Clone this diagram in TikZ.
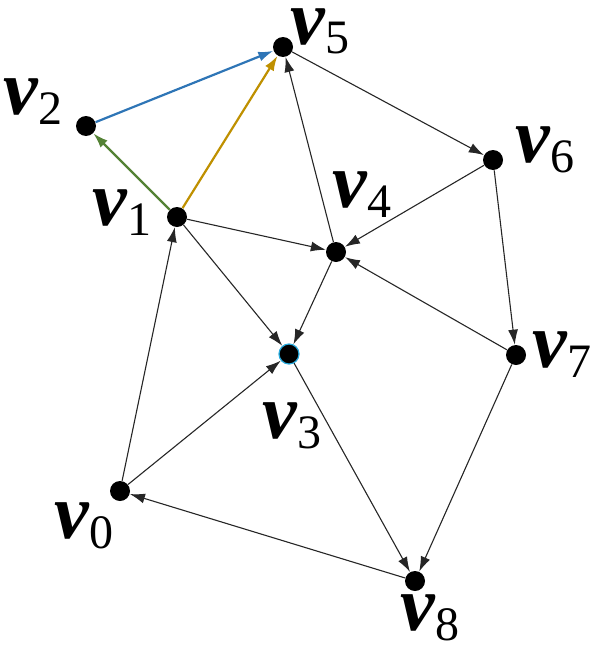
\documentclass[tikz,border=0pt]{standalone}
\usepackage{fontspec}
\setmainfont{Liberation Serif}
\usepackage{tikz}
\usetikzlibrary{arrows.meta}

\definecolor{eblue}{RGB}{46,117,182}
\definecolor{egreen}{RGB}{84,130,53}
\definecolor{egold}{RGB}{191,144,0}
\definecolor{vring}{RGB}{40,170,220}

\newcommand{\vl}[1]{\textbf{\textit{v}}\raisebox{-5pt}{\fontsize{24}{24}\selectfont #1}}

\tikzset{
  vtx/.style={circle, fill=black, inner sep=0pt, minimum size=10pt},
  lab/.style={inner sep=0pt, anchor=base west, font=\fontsize{39}{43}\selectfont},
  edge/.style={draw=black!85, line width=0.55pt, -{Latex[length=7.5pt,width=5pt]}},
  cedge/.style={line width=1.1pt, -{Latex[length=7.5pt,width=5pt]}}
}

\begin{document}
\begin{tikzpicture}[x=0.5pt,y=-0.5pt]
\useasboundingbox (0,0) rectangle (590,653);
% vertices
\node[vtx] (v0) at (120,491) {};
\node[vtx] (v1) at (177,217) {};
\node[vtx] (v2) at (86,126) {};
\node[vtx, draw=vring, line width=0.6pt] (v3) at (289,354) {};
\node[vtx] (v4) at (336,252) {};
\node[vtx] (v5) at (283,47) {};
\node[vtx] (v6) at (493,160) {};
\node[vtx] (v7) at (516,355) {};
\node[vtx] (v8) at (415,581) {};
% labels
\node[lab] (l0) at (54,538) {\vl{0}};
\node[lab] (l1) at (92,225) {\vl{1}};
\node[lab] (l2) at (3,114) {\vl{2}};
\node[lab] (l3) at (262,438) {\vl{3}};
\node[lab] (l4) at (332,207) {\vl{4}};
\node[lab] (l5) at (290,44) {\vl{5}};
\node[lab] (l6) at (515,162) {\vl{6}};
\node[lab] (l7) at (532,367) {\vl{7}};
\node[lab] (l8) at (400,630) {\vl{8}};
% coloured edges
\draw[cedge, eblue] (v2) -- (v5);
\draw[cedge, egreen] (v1) -- (v2);
\draw[cedge, egold] (v1) -- (v5);
% black edges
\draw[edge] (v0) -- (v1);
\draw[edge] (v0) -- (v3);
\draw[edge] (v1) -- (v4);
\draw[edge] (v1) -- (v3);
\draw[edge] (v4) -- (v3);
\draw[edge] (v4) -- (v5);
\draw[edge] (v5) -- (v6);
\draw[edge] (v6) -- (v4);
\draw[edge] (v6) -- (v7);
\draw[edge] (v7) -- (v4);
\draw[edge] (v7) -- (v8);
\draw[edge] (v3) -- (v8);
\draw[edge] (v8) -- (v0);
\end{tikzpicture}
\end{document}
